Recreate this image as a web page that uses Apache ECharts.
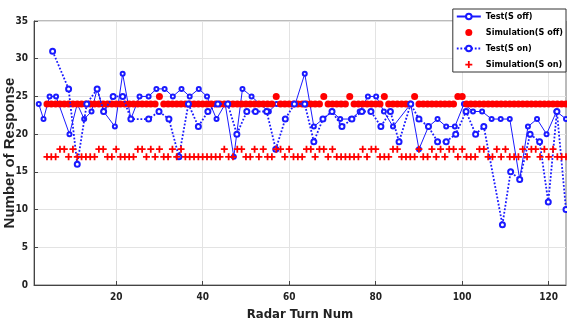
<!DOCTYPE html>
<html>
<head>
<meta charset="utf-8">
<script src="https://cdn.jsdelivr.net/npm/echarts@6/dist/echarts.min.js"></script>
<style>
  html, body { margin: 0; padding: 0; background: #fff; }
  #main { width: 567px; height: 326px; }
</style>
</head>
<body>
<div id="main"></div>
<script>
// x ticks
var xTicks = [20, 40, 60, 80, 100, 120];

// Test(S off) : [turn, responses]
var testOff = [
  [2.1,24],[3.2,22],[4.6,25],[6.1,25],[9.2,20],[11,24],[12.6,22],[14.3,23],[15.6,26],[17.1,23],
  [19.7,21],[21.5,28],[23.4,22],[25.4,25],[27.5,25],[29.3,26],[31.2,26],[33.1,25],[35.1,26],[37,25],
  [39.1,26],[41,25],[43.2,22],[45.2,24],[47.2,17],[49.2,26],[51.3,25],[53.2,24],[55.3,23],[57.1,24],
  [59.3,24],[61.4,24],[63.6,28],[65.7,21],[67.8,22],[69.9,23],[71.8,22],[74.3,22],[76.3,23],[78.2,25],
  [80.1,25],[81.9,23],[84,21],[88.1,24],[90,18],[92.2,21],[94.3,22],[96.3,21],[98.3,21],[100.4,24],
  [102.5,23],[104.6,23],[106.8,22],[108.9,22],[111,22],[113.3,14],[115.2,21],[117.3,22],[119.5,20],[121.8,23],
  [124,22]
];

// Test(S on)
var testOn = [
  [5.3,31],[9,26],[11,16],[13.2,24],[15.6,26],[17.1,23],[19.3,25],[21.5,25],[23.4,22],[27.5,22],
  [29.9,23],[32.2,22],[34.5,17],[36.7,24],[39,21],[41.2,23],[43.5,24],[45.8,24],[47.9,20],[50.2,23],
  [52.2,23],[54.8,23],[56.9,18],[59.1,22],[61.2,24],[63.6,24],[65.7,19],[67.8,22],[69.9,23],[72.2,21],
  [74.5,22],[76.8,23],[78.9,23],[81.2,21],[83.4,23],[85.4,19],[88.1,24],[90,22],[92.2,21],[94.3,19],
  [96.3,19],[98.5,20],[100.9,23],[103.1,20],[105,21],[109.3,8],[111.2,15],[113.3,14],[115.7,20],[117.9,19],
  [119.9,11],[121.9,23],[124,10]
];

// simulations, one value per radar turn starting at turn 4
var simStartTurn = 4;
var simOff = [
  24,24,24,24,24,24,24,24,24,24,
  24,24,24,24,24,24,24,24,24,24,
  24,24,24,24,24,24,25,24,24,24,
  24,24,24,24,24,24,24,24,24,24,
  24,24,24,24,24,24,24,24,24,24,
  24,24,24,25,24,24,24,24,24,24,
  24,24,24,24,25,24,24,24,24,24,
  25,24,24,24,24,24,24,24,25,24,
  24,24,24,24,24,25,24,24,24,24,
  24,24,24,24,24,25,25,24,24,24,
  24,24,24,24,24,24,24,24,24,24,
  24,24,24,24,24,24,24,24,24,24,
  24
];
var simOn = [
  17,17,17,18,18,17,18,17,17,17,
  17,17,18,18,17,17,18,17,17,17,
  17,18,18,17,18,17,18,17,17,18,
  17,18,17,17,17,17,17,17,17,17,
  17,18,17,17,18,18,17,17,18,17,
  18,17,17,18,18,17,18,17,17,17,
  18,18,17,18,18,17,18,17,17,17,
  17,17,17,18,17,18,18,17,17,17,
  18,18,17,17,17,17,18,17,17,18,
  17,18,17,18,18,17,18,17,17,17,
  18,18,17,17,18,17,18,17,17,17,
  18,17,18,18,17,18,17,18,17,17,
  17
];

function toPairs(vals) {
  var arr = [];
  for (var i = 0; i < vals.length; i++) {
    arr.push([simStartTurn + i, vals[i]]);
  }
  return arr;
}

var blue = '#1a1aff';
var red = '#ff0000';
var narrow = '"Liberation Sans Narrow", "DejaVu Sans Condensed", "Liberation Sans", Arial, sans-serif';
var plusPath = 'path://M3,0H5V3H8V5H5V8H3V5H0V3H3Z';

var chart = echarts.init(document.getElementById('main'));
var option = {
  animation: false,
  backgroundColor: '#fff',
  grid: {
    left: 34, right: 1, top: 21, bottom: 41,
    outerBoundsMode: 'none',
    containLabel: false,
    show: true, borderColor: '#777', borderWidth: 1, backgroundColor: 'transparent'
  },
  legend: {
    orient: 'vertical',
    right: 1, top: 9,
    itemWidth: 24, itemHeight: 7, itemGap: 7,
    padding: [3, 3, 3, 3],
    backgroundColor: '#fff',
    borderColor: '#333', borderWidth: 1, borderRadius: 0,
    textStyle: { fontFamily: narrow, fontWeight: 'bold', fontSize: 9, color: '#000' },
    data: ['Test(S off)', 'Simulation(S off)', 'Test(S on)', 'Simulation(S on)']
  },
  xAxis: {
    type: 'value', min: 1, max: 124,
    name: 'Radar Turn Num', nameLocation: 'middle', nameGap: 23,
    nameTextStyle: { fontFamily: narrow, fontWeight: 'bold', fontSize: 13, color: '#222' },
    axisLine: { show: true, lineStyle: { color: '#444' } },
    axisTick: { show: true, inside: true, length: 4, customValues: xTicks, lineStyle: { color: '#444' } },
    axisLabel: { customValues: xTicks, margin: 7, fontFamily: narrow, fontWeight: 'bold', fontSize: 10, color: '#222' },
    splitLine: { show: true, lineStyle: { color: '#e3e3e3' } }
  },
  yAxis: {
    type: 'value', min: 0, max: 35, interval: 5,
    name: 'Number of Response', nameLocation: 'middle', nameGap: 17,
    nameMoveOverlap: false,
    nameTextStyle: { fontFamily: 'Liberation Sans, Arial, sans-serif', fontWeight: 'bold', fontSize: 15, color: '#222' },
    axisLine: { show: true, lineStyle: { color: '#444' } },
    axisTick: { show: true, inside: true, length: 4, lineStyle: { color: '#444' } },
    axisLabel: { margin: 6, fontFamily: narrow, fontWeight: 'bold', fontSize: 10, color: '#222' },
    splitLine: { show: true, lineStyle: { color: '#e3e3e3' } }
  },
  series: [
    {
      name: 'Test(S off)', type: 'line', data: testOff,
      symbol: 'emptyCircle', symbolSize: 4,
      lineStyle: { color: blue, width: 1 },
      itemStyle: { color: blue, borderWidth: 1 },
      z: 2
    },
    {
      name: 'Simulation(S off)', type: 'scatter', data: toPairs(simOff),
      symbol: 'circle', symbolSize: 7,
      itemStyle: { color: red, opacity: 1 },
      z: 3
    },
    {
      name: 'Test(S on)', type: 'line', data: testOn,
      symbol: 'emptyCircle', symbolSize: 5,
      lineStyle: { color: blue, width: 1.8, type: [1.8, 1.8] },
      itemStyle: { color: blue, borderWidth: 1.5 },
      z: 4
    },
    {
      name: 'Simulation(S on)', type: 'scatter', data: toPairs(simOn),
      symbol: plusPath, symbolSize: 7,
      itemStyle: { color: red, opacity: 1 },
      z: 5
    }
  ]
};
chart.setOption(option);
</script>
</body>
</html>
